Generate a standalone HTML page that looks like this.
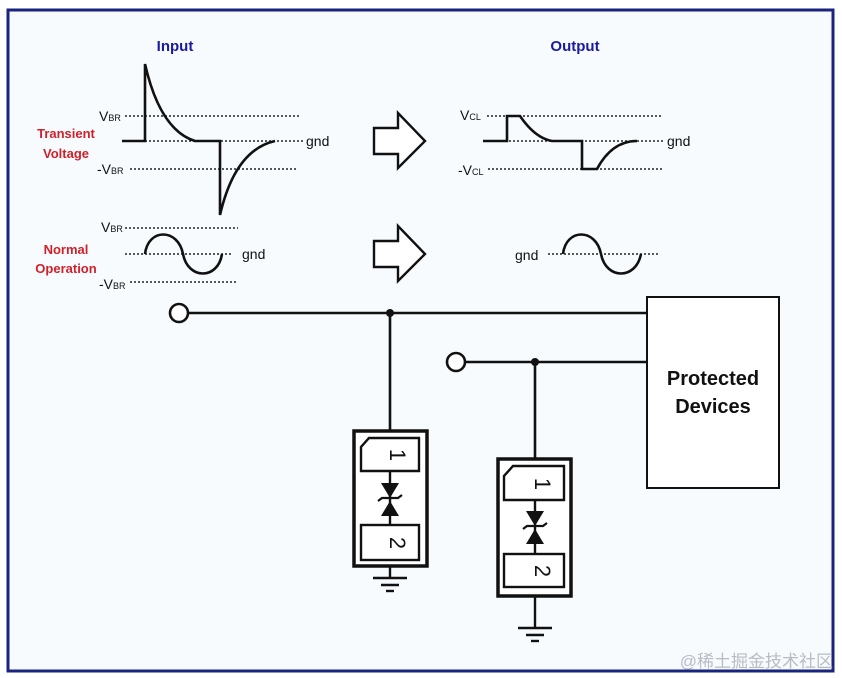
<!DOCTYPE html>
<html><head><meta charset="utf-8"><style>
html,body{margin:0;padding:0;background:#fff}
svg{display:block}
text{font-family:"Liberation Sans",Arial,sans-serif}
</style></head><body>
<svg width="842" height="678" viewBox="0 0 842 678" xmlns="http://www.w3.org/2000/svg">
<rect x="0" y="0" width="842" height="678" fill="#fff"/>
<rect x="8" y="10" width="825" height="661" fill="#f7fbfe" stroke="#1a237e" stroke-width="3"/>
<g font-weight="bold">
<text x="175" y="51" font-size="15" fill="#1a1aa0" text-anchor="middle">Input</text>
<text x="575" y="51" font-size="15" fill="#1a1aa0" text-anchor="middle">Output</text>
<text x="66" y="138" font-size="13" fill="#d0202a" text-anchor="middle">Transient</text>
<text x="66" y="158" font-size="13" fill="#d0202a" text-anchor="middle">Voltage</text>
<text x="66" y="254" font-size="13" fill="#d0202a" text-anchor="middle">Normal</text>
<text x="66" y="273" font-size="13" fill="#d0202a" text-anchor="middle">Operation</text>
</g>
<g font-size="14" fill="#111">
<text x="99" y="121">V<tspan font-size="9">BR</tspan></text>
<text x="97" y="174">-V<tspan font-size="9">BR</tspan></text>
<text x="101" y="232">V<tspan font-size="9">BR</tspan></text>
<text x="99" y="289">-V<tspan font-size="9">BR</tspan></text>
<text x="306" y="146">gnd</text>
<text x="242" y="259">gnd</text>
<text x="460" y="120">V<tspan font-size="9">CL</tspan></text>
<text x="458" y="175">-V<tspan font-size="9">CL</tspan></text>
<text x="667" y="146">gnd</text>
<text x="515" y="260">gnd</text>
</g>
<g stroke="#222" stroke-width="1.6" stroke-dasharray="2,2" fill="none">
<line x1="125" y1="116" x2="300" y2="116"/>
<line x1="145" y1="141" x2="305" y2="141"/>
<line x1="130" y1="169" x2="297" y2="169"/>
<line x1="125" y1="228" x2="238" y2="228"/>
<line x1="125" y1="254" x2="233" y2="254"/>
<line x1="130" y1="282" x2="238" y2="282"/>
<line x1="487" y1="116" x2="662" y2="116"/>
<line x1="505" y1="141" x2="665" y2="141"/>
<line x1="488" y1="169" x2="662" y2="169"/>
<line x1="548" y1="254" x2="658" y2="254"/>
</g>
<g stroke="#111" stroke-width="2.6" fill="none">
<path d="M122 141 H145 V64 Q160 130 195 141 H220 V215 Q235 150 275 141"/>
<path d="M145 254 C148 228 178 228 183 254 C188 280 218 280 222 254"/>
<path d="M483 141 H507 V116 H520 Q535 138 552 141 H582 V169 H597 Q612 141 637 141"/>
<path d="M563 254 C566 228 596 228 601 254 C606 280 636 280 641 254"/>
<path d="M374 128 H398 V113 L425 141 L398 168 V154 H374 Z" stroke-width="2.4" fill="#fff"/>
<path d="M374 241 H398 V226 L425 254 L398 281 V267 H374 Z" stroke-width="2.4" fill="#fff"/>
</g>
<g stroke="#111" stroke-width="2.6" fill="none">
<line x1="188" y1="313" x2="647" y2="313"/>
<line x1="465" y1="362" x2="647" y2="362"/>
<line x1="390" y1="313" x2="390" y2="432"/>
<line x1="535" y1="362" x2="535" y2="460"/>
<circle cx="179" cy="313" r="9" fill="#fff"/>
<circle cx="456" cy="362" r="9" fill="#fff"/>
<rect x="647" y="297" width="132" height="191" fill="#fff" stroke-width="2"/>
</g>
<circle cx="390" cy="313" r="4" fill="#111"/>
<circle cx="535" cy="362" r="4" fill="#111"/>
<text x="713" y="385" font-size="20" font-weight="bold" text-anchor="middle" fill="#111">Protected</text>
<text x="713" y="413" font-size="20" font-weight="bold" text-anchor="middle" fill="#111">Devices</text>
<!-- package 1 -->
<g stroke="#111" fill="none">
<rect x="354" y="431" width="73" height="135" stroke-width="3.5" fill="#fff"/>
<path d="M369 438 H419 V471 H361 V447 Z" stroke-width="2.4"/>
<rect x="361" y="525" width="58" height="35" stroke-width="2.4"/>
<line x1="390" y1="471" x2="390" y2="525" stroke-width="2.4"/>
<line x1="390" y1="566" x2="390" y2="578" stroke-width="2.4"/>
<line x1="373" y1="578" x2="407" y2="578" stroke-width="2.4"/>
<line x1="381" y1="585" x2="399" y2="585" stroke-width="2.4"/>
<line x1="386" y1="591" x2="394" y2="591" stroke-width="2.4"/>
<path d="M378 501 L382 498 H398 L402 495" stroke-width="2.2"/>
</g>
<path d="M381 483 H399 L390 498 Z M381 516 H399 L390 501 Z" fill="#111"/>
<text x="390" y="455" font-size="22" text-anchor="middle" fill="#111" transform="rotate(90 390 455) translate(0 0)">1</text>
<text x="390" y="543" font-size="22" text-anchor="middle" fill="#111" transform="rotate(90 390 543)">2</text>
<!-- package 2 -->
<g stroke="#111" fill="none">
<rect x="498" y="459" width="73" height="137" stroke-width="3.5" fill="#fff"/>
<path d="M513 466 H564 V500 H504 V476 Z" stroke-width="2.4"/>
<rect x="504" y="554" width="60" height="33" stroke-width="2.4"/>
<line x1="535" y1="500" x2="535" y2="554" stroke-width="2.4"/>
<line x1="535" y1="596" x2="535" y2="628" stroke-width="2.4"/>
<line x1="518" y1="628" x2="552" y2="628" stroke-width="2.4"/>
<line x1="526" y1="635" x2="544" y2="635" stroke-width="2.4"/>
<line x1="531" y1="641" x2="539" y2="641" stroke-width="2.4"/>
<path d="M523 529 L527 526 H543 L547 523" stroke-width="2.2"/>
</g>
<path d="M526 511 H544 L535 526 Z M526 544 H544 L535 529 Z" fill="#111"/>
<text x="535" y="484" font-size="22" text-anchor="middle" fill="#111" transform="rotate(90 535 484)">1</text>
<text x="535" y="571" font-size="22" text-anchor="middle" fill="#111" transform="rotate(90 535 571)">2</text>
<text x="833" y="667" font-size="17" fill="#b8bcc4" text-anchor="end" font-family="'Liberation Sans','Noto Sans CJK SC',sans-serif">@稀土掘金技术社区</text>
</svg>
</body></html>
